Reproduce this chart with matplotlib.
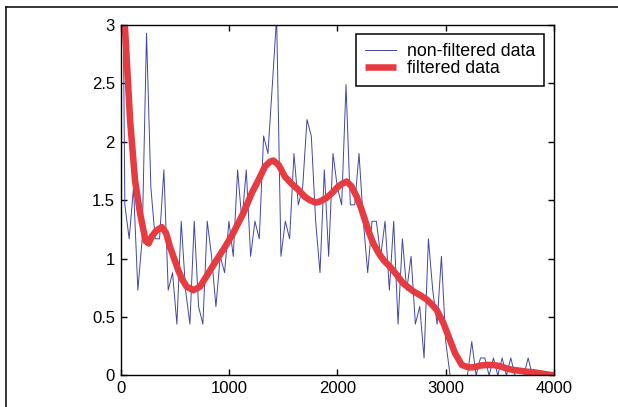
"""
Filtered vs non-filtered signal, thin raw trace plus thick smoothed curve
"""
import matplotlib
matplotlib.use('Agg')
import matplotlib.pyplot as plt
from matplotlib.lines import Line2D

plt.rcParams['font.family'] = ['Liberation Sans', 'DejaVu Sans']

# ===== data =====
# raw samples, one every 40 units
raw_x = list(range(0, 4000, 40))
raw_y = [5.85, 1.46, 1.17, 1.61, 0.73, 1.17, 2.93, 1.61, 1.17, 1.17,
         1.76, 0.73, 0.88, 0.44, 1.32, 0.73, 0.44, 1.32, 0.59, 0.44,
         1.32, 1.02, 0.59, 1.02, 0.88, 1.32, 1.02, 1.76, 1.32, 1.76,
         1.02, 1.32, 1.17, 2.05, 1.90, 2.48, 3.07, 1.02, 1.32, 1.17,
         1.90, 1.46, 1.61, 2.19, 2.05, 1.32, 0.88, 1.76, 1.02, 1.90,
         1.61, 1.46, 2.49, 1.46, 1.46, 1.90, 1.32, 0.88, 1.32, 1.32,
         1.02, 1.32, 0.73, 1.32, 0.44, 1.17, 0.73, 1.02, 0.44, 0.59,
         0.15, 1.17, 0.73, 0.44, 1.02, 0.29, 0.0, 0.0, 0.0, 0.0,
         0.0, 0.29, 0.0, 0.15, 0.15, 0.0, 0.15, 0.0, 0.15, 0.0,
         0.15, 0.0, 0.0, 0.0, 0.15, 0.0, 0.0, 0.0, 0.0, 0.0]

# smoothed curve
filt_x = [0, 40, 88, 134, 180, 232, 260, 288, 330, 380, 420, 457, 495, 533,
          570, 610, 672, 733, 810, 887, 964, 1040, 1133, 1210, 1287, 1333,
          1379, 1410, 1460, 1518, 1580, 1640, 1700, 1748, 1800, 1840, 1900,
          1948, 2000, 2040, 2087, 2130, 2179, 2220, 2255, 2290, 2332, 2380,
          2424, 2486, 2550, 2606, 2701, 2760, 2825, 2870, 2917, 2978, 3040,
          3086, 3148, 3210, 3255, 3320, 3378, 3440, 3500, 3560, 3624, 3690,
          3747, 3810, 3870, 3930, 4000]
filt_y = [3.6, 3.0, 2.19, 1.67, 1.39, 1.15, 1.13, 1.19, 1.24, 1.27, 1.22,
          1.10, 1.00, 0.90, 0.82, 0.76, 0.73, 0.76, 0.875, 0.99, 1.10, 1.22,
          1.39, 1.56, 1.70, 1.79, 1.83, 1.84, 1.80, 1.70, 1.64, 1.59, 1.53,
          1.50, 1.48, 1.49, 1.52, 1.56, 1.61, 1.64, 1.66, 1.62, 1.53, 1.43,
          1.33, 1.23, 1.13, 1.05, 0.99, 0.93, 0.86, 0.79, 0.72, 0.69, 0.65,
          0.61, 0.56, 0.45, 0.30, 0.19, 0.09, 0.07, 0.07, 0.085, 0.09, 0.09,
          0.08, 0.06, 0.047, 0.04, 0.033, 0.027, 0.019, 0.01, 0.0]

x_ticks = [0, 1000, 2000, 3000, 4000]
x_tick_labels = ['0', '1000', '2000', '3000', '4000']
y_ticks = [0, 0.5, 1, 1.5, 2, 2.5, 3]
y_tick_labels = ['0', '0.5', '1', '1.5', '2', '2.5', '3']

RAW_COLOR = '#4246a2'
FILT_COLOR = '#e63b40'


def main():
    fig = plt.figure(figsize=(6.18, 4.07), dpi=100)
    ax = fig.add_axes([0.195, 0.0774, 0.7017, 0.8612])

    ax.plot(raw_x, raw_y, color=RAW_COLOR, lw=0.7, label='non-filtered data')
    ax.plot(filt_x, filt_y, color=FILT_COLOR, lw=4.7, label='filtered data',
            solid_joinstyle='round', solid_capstyle='butt')

    ax.set_xlim(0, 4000)
    ax.set_ylim(0, 3)
    ax.set_xticks(x_ticks)
    ax.set_xticklabels(x_tick_labels)
    ax.set_yticks(y_ticks)
    ax.set_yticklabels(y_tick_labels)
    ax.tick_params(direction='in', length=4, width=1, top=True, right=True,
                   labelsize=12, pad=4, colors='black')
    for s in ax.spines.values():
        s.set_linewidth(1.0)
        s.set_color('black')

    leg = ax.legend(loc='upper right', bbox_to_anchor=(0.977, 0.974),
                    borderaxespad=0, fancybox=False, framealpha=1,
                    edgecolor='black', fontsize=12.8, handlelength=1.75,
                    handletextpad=0.6, borderpad=0.5, labelspacing=0.0)
    leg.get_frame().set_linewidth(1.1)

    # page frame (top and left edges)
    fx = 5.5 / 618
    fy = 1 - 7.3 / 407
    fig.add_artist(Line2D([fx, fx], [0, fy], color='black', lw=1.1))
    fig.add_artist(Line2D([fx, 1], [fy, fy], color='black', lw=1.1))

    fig.savefig('out.png', dpi=100)
    plt.close(fig)


if __name__ == "__main__":
    main()
